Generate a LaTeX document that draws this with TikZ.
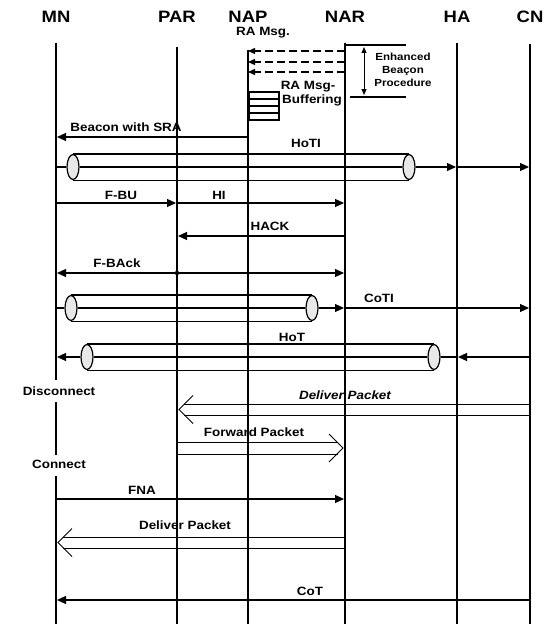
\documentclass[tikz,border=0pt]{standalone}
\usepackage{fontspec}
\setmainfont{Liberation Sans}[FakeStretch=1.12]
\usetikzlibrary{arrows.meta,calc,shapes.geometric}
\begin{document}
\begin{tikzpicture}[x=1pt,y=-1pt,
  hdr/.style={font=\bfseries\fontsize{16.5}{16.5}\selectfont, inner sep=0pt},
  lbl/.style={font=\bfseries\fontsize{12}{12}\selectfont, inner sep=0pt},
  ilbl/.style={font=\bfseries\itshape\fontsize{12}{12}\selectfont, inner sep=0pt},
  sml/.style={font=\bfseries\fontsize{10.3}{12.8}\selectfont, inner sep=0pt, align=center},
  life/.style={line width=2.8pt},
  thinlife/.style={line width=1.7pt},
  msg/.style={line width=1.1pt, -{Triangle[length=9pt,width=8pt]}, shorten >=1pt},
  msgline/.style={line width=1.1pt},
  dashmsg/.style={line width=1.3pt, dash pattern=on 8pt off 4pt, -{Triangle[length=7pt,width=6pt]}},
  tubeline/.style={line width=1.2pt},
  tubeend/.style={draw, ellipse, line width=1.2pt, fill=gray!18, inner sep=0pt, minimum width=12pt, minimum height=25pt},
  hollow/.style={line width=0.9pt},
]
\useasboundingbox (0,0) rectangle (558,626);

% headers
\node[hdr] (MN)  at (56,17)  {MN};
\node[hdr] (PAR) at (177,17) {PAR};
\node[hdr] (NAP) at (248,17) {NAP};
\node[hdr] (NAR) at (345,17) {NAR};
\node[hdr] (HA)  at (457,17) {HA};
\node[hdr] (CN)  at (530,17) {CN};

% lifelines
\draw[life] (MN |- 0,43) -- (MN |- 0,380);
\draw[life] (MN |- 0,402) -- (MN |- 0,455);
\draw[life] (MN |- 0,476) -- (MN |- 0,624);
\draw[life] (PAR |- 0,47) -- (PAR |- 0,624);
\draw[thinlife] (NAP |- 0,50) -- (NAP |- 0,624);
\draw[life] (NAR |- 0,43) -- (NAR |- 0,624);
\draw[life] (HA |- 0,43) -- (HA |- 0,624);
\draw[life] (CN |- 0,44) -- (CN |- 0,624);

% RA messages
\node[lbl] (ram) at (263,33) {RA Msg.};
\draw[dashmsg] (NAR |- 0,51) -- (NAP |- 0,51);
\draw[dashmsg] (NAR |- 0,62) -- (NAP |- 0,62);
\draw[dashmsg] (NAR |- 0,72) -- (NAP |- 0,72);

% buffer
\foreach \yy in {92,99,106,113}
  \draw[line width=1.2pt] (249,\yy) rectangle (279,\yy+7);
\node[lbl] (rab) at (308,87) {RA Msg-};
\node[lbl] (buf) at (312,100) {Buffering};

% enhanced beacon procedure
\coordinate (ebt) at (406,45);
\coordinate (ebb) at (406,97);
\draw[msgline] (NAR |- ebt) -- (ebt);
\draw[msgline] (350,97) -- (ebb);
\draw[line width=1pt, {Triangle[length=6pt,width=5pt]}-{Triangle[length=6pt,width=5pt]}] (364,47) -- (364,95);
\node[sml] (ebp) at (403,70) {Enhanced\\Beaçon\\Procedure};

% Beacon with SRA
\draw[msg] (NAP |- 0,137) -- (MN |- 0,137);
\node[lbl] at (126,127) {Beacon with SRA};

% HoTI
\node[tubeend] (t1l) at (73,167) {};
\node[tubeend] (t1r) at (409,167) {};
\draw[tubeline] (t1l.north) -- (t1r.north) (t1l.south) -- (t1r.south);
\draw[msgline] (MN |- t1l) -- (t1l.west) (t1l.east) -- (t1r.west);
\draw[msg] (t1r.east) -- (HA |- t1r);
\draw[msg] (HA |- t1r) -- (CN |- t1r);
\node[lbl] at (306,143) {HoTI};

% F-BU, HI
\draw[msg] (MN |- 0,203) -- (PAR |- 0,203);
\node[lbl] at (121,195) {F-BU};
\draw[msg] (PAR |- 0,203) -- (NAR |- 0,203);
\node[lbl] at (219,195) {HI};

% HACK
\draw[msg] (NAR |- 0,236) -- (PAR |- 0,236);
\node[lbl] at (270,226) {HACK};

% F-BAck
\coordinate (fb) at (PAR |- 0,273);
\fill (fb) circle (2.2);
\draw[msg] (fb) -- (MN |- fb);
\draw[msg] (fb) -- (NAR |- fb);
\node[lbl] at (117,263) {F-BAck};

% CoTI
\node[tubeend] (t2l) at (71,308) {};
\node[tubeend] (t2r) at (312,308) {};
\draw[tubeline] (t2l.north) -- (t2r.north) (t2l.south) -- (t2r.south);
\draw[msgline] (MN |- t2l) -- (t2l.west) (t2l.east) -- (t2r.west);
\draw[msg] (t2r.east) -- (NAR |- t2r);
\draw[msg] (NAR |- t2r) -- (CN |- t2r);
\node[lbl] at (379,298) {CoTI};

% HoT
\node[tubeend] (t3l) at (87,357) {};
\node[tubeend] (t3r) at (434,357) {};
\draw[tubeline] (t3l.north) -- (t3r.north) (t3l.south) -- (t3r.south);
\draw[msg] (CN |- t3r) -- (HA |- t3r);
\draw[msgline] (HA |- t3r) -- (t3r.east) (t3r.west) -- (t3l.east);
\draw[msg] (t3l.west) -- (MN |- t3l);
\node[lbl] at (292,337) {HoT};

% Disconnect / Connect
\node[lbl] (disc) at (59,391) {Disconnect};
\node[lbl] (conn) at (59,464) {Connect};

% Deliver Packet (CN -> PAR)
\coordinate (d1) at ($(PAR |- 0,409.5)+(2,0)$);
\draw[hollow] (CN |- 0,404) -- ($(d1)+(5,-5.5)$);
\draw[hollow] (CN |- 0,415) -- ($(d1)+(5,5.5)$);
\draw[hollow] ($(d1)+(14,-14)$) -- (d1) -- ($(d1)+(14,14)$);
\node[ilbl] at (345,395) {Deliver Packet};

% Forward Packet (PAR -> NAR)
\coordinate (f1) at ($(NAR |- 0,448)+(-2,0)$);
\draw[hollow] (PAR |- 0,442) -- ($(f1)+(-5,-6)$);
\draw[hollow] (PAR |- 0,454) -- ($(f1)+(-5,6)$);
\draw[hollow] ($(f1)+(-14,-14)$) -- (f1) -- ($(f1)+(-14,14)$);
\node[lbl] at (254,432) {Forward Packet};

% FNA
\draw[msg] (MN |- 0,499) -- (NAR |- 0,499);
\node[lbl] at (142,490) {FNA};

% Deliver Packet (NAR -> MN)
\coordinate (d2) at ($(MN |- 0,542.5)+(2,0)$);
\draw[hollow] (NAR |- 0,537) -- ($(d2)+(5,-5.5)$);
\draw[hollow] (NAR |- 0,548) -- ($(d2)+(5,5.5)$);
\draw[hollow] ($(d2)+(14,-14)$) -- (d2) -- ($(d2)+(14,14)$);
\node[lbl] at (185,525) {Deliver Packet};

% CoT
\draw[msg] (CN |- 0,600) -- (MN |- 0,600);
\node[lbl] at (310,591) {CoT};
\end{tikzpicture}
\end{document}
